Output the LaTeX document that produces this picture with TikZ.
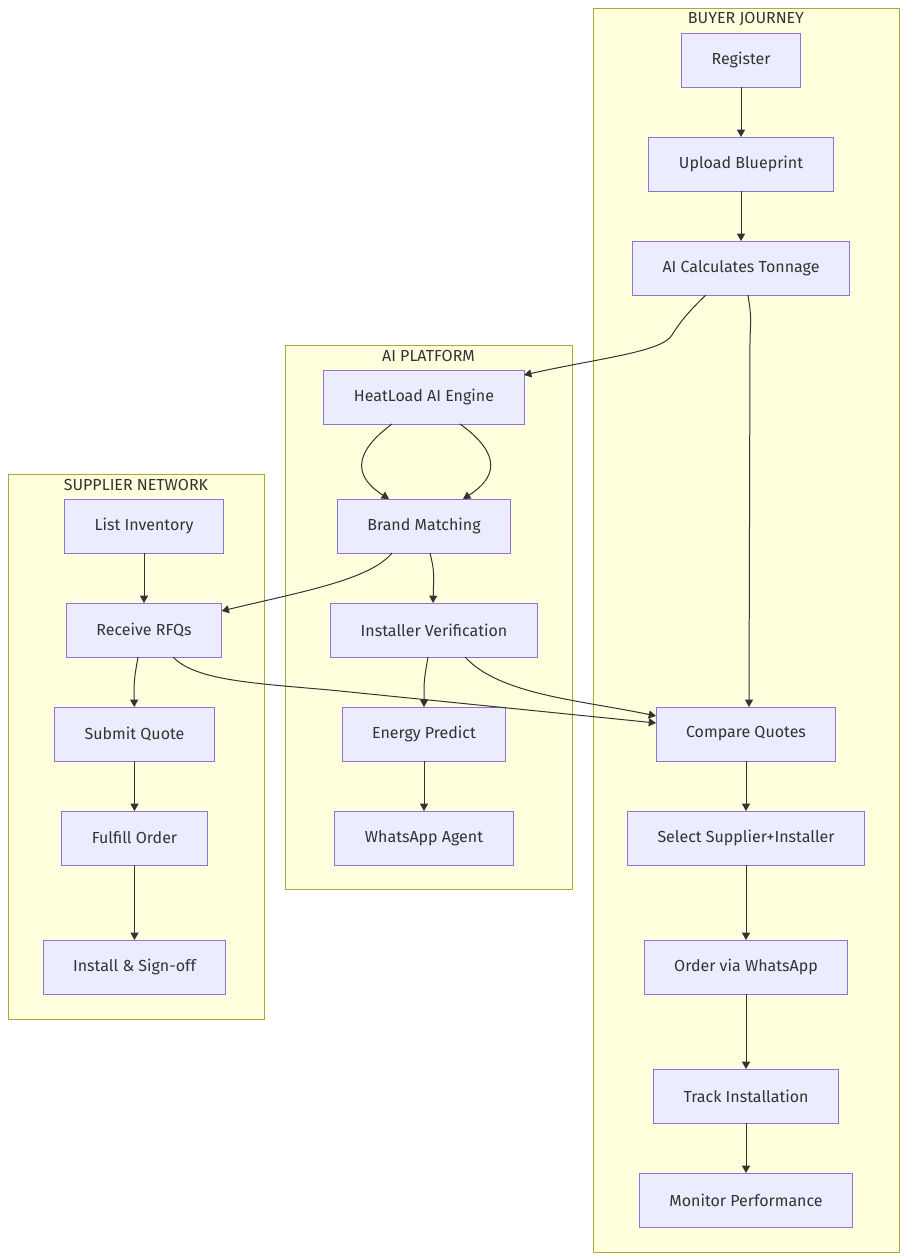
\documentclass[tikz,border=0pt]{standalone}
\usepackage{fontspec}
\setmainfont{Fira Sans}
\usetikzlibrary{arrows.meta,positioning,calc}
\definecolor{clusterfill}{HTML}{FFFFDE}
\definecolor{clusterline}{HTML}{AAAA33}
\definecolor{nodefill}{HTML}{ECECFF}
\definecolor{nodeline}{HTML}{9370DB}
\definecolor{ink}{HTML}{333333}

\begin{document}
\begin{tikzpicture}[
  x=0.75pt, y=-0.75pt,
  node distance=37.5pt,
  cluster/.style={draw=clusterline, fill=clusterfill, line width=0.75pt},
  title/.style={font=\fontsize{12}{14}\selectfont, text=ink},
  box/.style={rectangle, draw=nodeline, fill=nodefill, line width=0.75pt, outer sep=0pt, minimum height=40.5pt, inner xsep=22.5pt, font=\fontsize{12}{14}\selectfont, text=ink},
  arrow/.style={-{Triangle[length=5.5pt,width=6pt]}, draw=ink, line width=0.75pt}
]
  \useasboundingbox (0,0) rectangle (908,1260);

  % subgraphs
  \draw[cluster] (593,8) rectangle (899,1252);
  \node[title] (buyertitle) at (746,19) {BUYER JOURNEY};
  \draw[cluster] (285,345) rectangle (572,889);
  \node[title] (aititle) at (428.5,356) {AI PLATFORM};
  \draw[cluster] (8,474) rectangle (264,1019);
  \node[title] (suppliertitle) at (136,485) {SUPPLIER NETWORK};

  % buyer journey
  \node[box] (register) at (741,60) {Register};
  \node[box, below=of register] (upload) {Upload Blueprint};
  \node[box, below=of upload] (tonnage) {AI Calculates Tonnage};
  \node[box] (compare) at (746,734) {Compare Quotes};
  \node[box, below=of compare] (select) {Select Supplier+Installer};
  \node[box, below=56.25pt of select] (order) {Order via WhatsApp};
  \node[box, below=56.25pt of order] (track) {Track Installation};
  \node[box, below=of track] (monitor) {Monitor Performance};

  % ai platform
  \node[box] (heatload) at (424,397) {HeatLoad AI Engine};
  \node[box, below=56.25pt of heatload] (brand) {Brand Matching};
  \node[box] (verify) at (434,630) {Installer Verification};
  \node[box] (energy) at (424,734) {Energy Predict};
  \node[box, below=of energy] (whatsapp) {WhatsApp Agent};

  % supplier network
  \node[box] (inventory) at (144,526) {List Inventory};
  \node[box, below=of inventory] (rfq) {Receive RFQs};
  \node[box] (quote) at (134.5,734) {Submit Quote};
  \node[box, below=of quote] (fulfill) {Fulfill Order};
  \node[box, below=56.25pt of fulfill] (install) {Install \& Sign-off};

  % edges
  \draw[arrow] (register) -- (upload);
  \draw[arrow] (upload) -- (tonnage);
  \draw[arrow] ($(tonnage.south)+(-35,0)$) .. controls (690,310) and (680,322) .. (672,335)
    .. controls (662,352) and (600,358) .. ($(heatload.north east)+(0,5)$);
  \draw[arrow] ($(tonnage.south)+(7,0)$) .. controls (751,315) .. (750,340) -- ($(compare.north)+(3,0)$);
  \draw[arrow] ($(heatload.south)+(-32,0)$) .. controls (350,455) and (356,478) .. ($(brand.north)+(-35,0)$);
  \draw[arrow] ($(heatload.south)+(36,0)$) .. controls (503,455) and (496,478) .. ($(brand.north)+(39,0)$);
  \draw[arrow] ($(brand.south)+(-32,0)$) .. controls (370,580) and (300,592) .. ($(rfq.north east)+(0,8)$);
  \draw[arrow] ($(brand.south)+(6,0)$) .. controls (434,570) .. ($(verify.north)+(-1,0)$);
  \draw[arrow] ($(verify.south)+(-6,0)$) .. controls (424,680) .. (energy);
  \draw[arrow] ($(verify.south)+(31,0)$) .. controls (500,695) and (580,700) .. ($(compare.north west)+(0,9)$);
  \draw[arrow] (inventory) -- (rfq);
  \draw[arrow] ($(rfq.south)+(29,0)$) .. controls (195,680) and (250,683) .. (330,690) -- ($(compare.north west)+(0,16)$);
  \draw[arrow] ($(rfq.south)+(-6,0)$) .. controls (134,680) .. (quote);
  \draw[arrow] (quote) -- (fulfill);
  \draw[arrow] (fulfill) -- (install);
  \draw[arrow] (energy) -- (whatsapp);
  \draw[arrow] (compare) -- (select);
  \draw[arrow] (select) -- (order);
  \draw[arrow] (order) -- (track);
  \draw[arrow] (track) -- (monitor);
\end{tikzpicture}
\end{document}
